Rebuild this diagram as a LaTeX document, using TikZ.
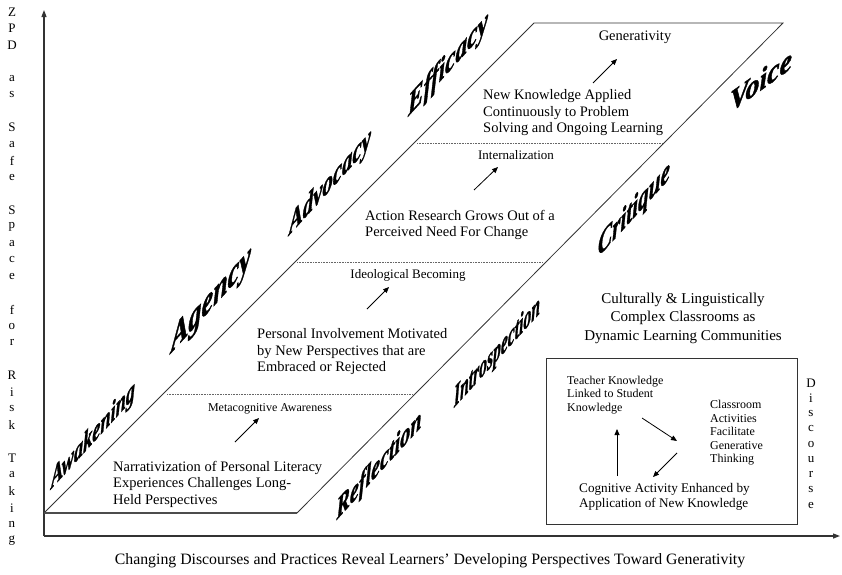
\documentclass[tikz,border=0pt]{standalone}
\usepackage{fontspec}
\setmainfont{Liberation Serif}
\newfontfamily\wafont[BoldItalicFeatures={FakeBold=1.6}]{Liberation Serif}
\usetikzlibrary{arrows.meta}
\begin{document}
\begin{tikzpicture}[x=1pt,y=-1pt,
  axis/.style={line width=1.2pt, draw=black!80, -{Triangle[length=7pt,width=5pt]}},
  edge/.style={line width=0.8pt, draw=black!80},
  sep/.style={densely dotted, line width=0.6pt, draw=black!60},
  up/.style={line width=0.8pt, -{Triangle[length=6pt,width=5pt]}},
  body/.style={font=\fontsize{14.5}{16.5}\selectfont, align=left, inner sep=0pt, anchor=west},
  stage/.style={font=\fontsize{13}{15}\selectfont, inner sep=0pt},
  small/.style={font=\fontsize{12}{13.5}\selectfont, align=left, inner sep=0pt, anchor=west},
  word/.style={font=\wafont\fontsize{30}{30}\selectfont\bfseries\itshape, inner sep=0pt},
  letter/.style={font=\fontsize{13}{15}\selectfont, inner sep=0pt}
]
\useasboundingbox (0,0) rectangle (842,574);

% axes
\coordinate (O) at (44,536);
\coordinate (ytop) at (44,10);
\coordinate (xend) at (840,536);
\draw[axis] (O) -- (ytop);
\draw[axis] (O) -- (xend);

% parallelogram
\coordinate (p1) at (44,513);
\coordinate (p2) at (297,513);
\coordinate (p3) at (783,23);
\coordinate (p4) at (534,23);
\draw[edge] (p1) -- (p2) -- (p3) -- (p4) -- cycle;
\draw[line width=1.4pt, draw=black!70] (p1) -- (p2);

% dotted separators
\coordinate (s1a) at (167,394); \coordinate (s1b) at (413,394);
\coordinate (s2a) at (297,262); \coordinate (s2b) at (543,262);
\coordinate (s3a) at (417,143); \coordinate (s3b) at (663,143);
\draw[sep] (s1a) -- (s1b);
\draw[sep] (s2a) -- (s2b);
\draw[sep] (s3a) -- (s3b);

% texts inside the parallelogram
\node[body] (narr) at (113,484) {Narrativization of Personal Literacy\\Experiences Challenges Long-\\Held Perspectives};
\node[stage, font=\fontsize{12}{14}\selectfont] (meta) at (270,409) {Metacognitive Awareness};
\node[body] (pers) at (257,352) {Personal Involvement Motivated\\by New Perspectives that are\\Embraced or Rejected};
\node[stage] (ideo) at (408,275) {Ideological Becoming};
\node[body] (act) at (365,225) {Action Research Grows Out of a\\Perceived Need For Change};
\node[stage] (intern) at (516,155) {Internalization};
\node[body] (newk) at (483,113) {New Knowledge Applied\\Continuously to Problem\\Solving and Ongoing Learning};
\node[stage, font=\fontsize{14.5}{16}\selectfont] (gen) at (635,37) {Generativity};

% small arrows
\coordinate (a1s) at (235,442); \coordinate (a1e) at (259,418);
\coordinate (a2s) at (367,309); \coordinate (a2e) at (389,287);
\coordinate (a3s) at (474,190); \coordinate (a3e) at (498,167);
\coordinate (a4s) at (593,83);  \coordinate (a4e) at (617,59);
\draw[up] (a1s) -- (a1e);
\draw[up] (a2s) -- (a2e);
\draw[up] (a3s) -- (a3e);
\draw[up] (a4s) -- (a4e);

% slanted words (WordArt style)
\node[word, yslant=1.1] (w1) at (93,436) {\resizebox{84pt}{20pt}{Awakening}};
\node[word, yslant=1.1] (w2) at (211,301) {\resizebox{80pt}{24pt}{Agency}};
\node[word, yslant=1.1] (w3) at (330,183) {\resizebox{82pt}{21pt}{Advocacy}};
\node[word, yslant=1.1] (w4) at (448,65) {\resizebox{80pt}{22pt}{Efficacy}};
\node[word, yslant=1.1] (w5) at (379,466) {\resizebox{85pt}{21pt}{Reflection}};
\node[word, yslant=1.1] (w6) at (497,353) {\resizebox{86pt}{21pt}{Introspection}};
\node[word, yslant=1.1] (w7) at (634,210) {\resizebox{72pt}{22pt}{Critique}};
\node[word, yslant=0.72] (w8) at (761,80) {\resizebox{62pt}{21pt}{Voice}};

% right hand title
\node[font=\fontsize{15}{18.5}\selectfont, align=center, inner sep=0pt] (cult) at (683,318) {Culturally \& Linguistically\\Complex Classrooms as\\Dynamic Learning Communities};

% box
\node[draw=black!80, line width=0.8pt, minimum width=251pt, minimum height=166pt, inner sep=0pt] (box) at (671.5,441) {};
\node[small] (teach) at (567,395) {Teacher Knowledge\\Linked to Student\\Knowledge};
\node[small] (class) at (710,433) {Classroom\\Activities\\Facilitate\\Generative\\Thinking};
\node[small, font=\fontsize{13.2}{14.5}\selectfont] (cog) at (579,497) {Cognitive Activity Enhanced by\\Application of New Knowledge};
\coordinate (b1s) at (617,476); \coordinate (b1e) at (617,429);
\coordinate (b2s) at (642,418); \coordinate (b2e) at (677,441);
\coordinate (b3s) at (677,453); \coordinate (b3e) at (653,477);
\draw[up] (b1s) -- (b1e);
\draw[up] (b2s) -- (b2e);
\draw[up] (b3s) -- (b3e);

% vertical labels
\foreach \ch [count=\i] in {Z,P,D,{},a,s,{},S,a,f,e,{},S,p,a,c,e,{},f,o,r,{},R,i,s,k,{},T,a,k,i,n,g}
  \node[letter] (zpd\i) at (12,{12+16.53*(\i-1)}) {\ch};
\foreach \ch [count=\i] in {D,i,s,c,o,u,r,s,e}
  \node[letter] (disc\i) at (811,{383+15.25*(\i-1)}) {\ch};

% bottom label
\node[font=\fontsize{15.8}{17}\selectfont, inner sep=0pt] (xlab) at (430,561) {Changing Discourses and Practices Reveal Learners’ Developing Perspectives Toward Generativity};
\end{tikzpicture}
\end{document}
